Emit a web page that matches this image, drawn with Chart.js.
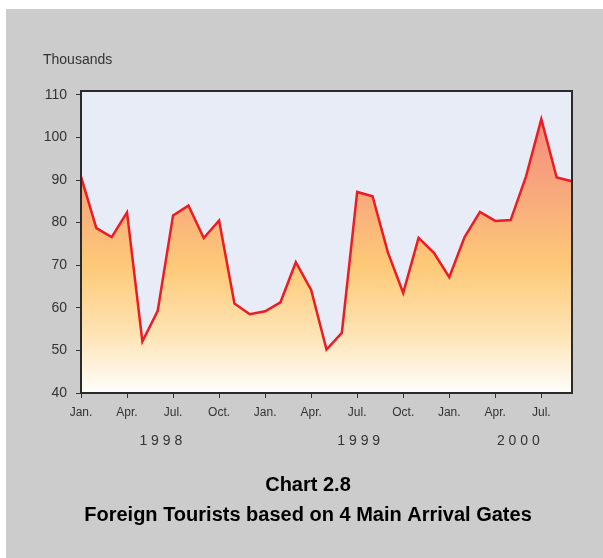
<!DOCTYPE html>
<html>
<head>
<meta charset="utf-8">
<script src="https://cdn.jsdelivr.net/npm/chart.js@4/dist/chart.umd.min.js"></script>
<style>
  html, body { margin: 0; padding: 0; background: #ffffff; }
  #wrap { position: absolute; left: 6px; top: 9px; width: 597px; height: 549px; background: #cccccc; }
  canvas { display: block; }
</style>
</head>
<body>
<div id="wrap"><canvas id="c" width="597" height="549"></canvas></div>
<script>
// Months Jan 1998 .. Sep 2000
const months = ['Jan.','Feb.','Mar.','Apr.','May','Jun.','Jul.','Aug.','Sep.','Oct.','Nov.','Dec.',
                'Jan.','Feb.','Mar.','Apr.','May','Jun.','Jul.','Aug.','Sep.','Oct.','Nov.','Dec.',
                'Jan.','Feb.','Mar.','Apr.','May','Jun.','Jul.','Aug.','Sep.'];
// Foreign tourists (thousands)
const tourists = [90.8, 78.7, 76.6, 82.4, 52.1, 59.3, 81.7, 84.0, 76.4, 80.5, 61.0, 58.5,
                  59.2, 61.3, 70.7, 64.2, 50.2, 54.1, 87.2, 86.2, 73.0, 63.5, 76.4, 72.9,
                  67.2, 76.6, 82.5, 80.4, 80.6, 90.8, 104.3, 90.6, 89.7];
const yTicks = [40, 50, 60, 70, 80, 90, 100, 110];
const yearLabels = ['1 9 9 8', '1 9 9 9', '2 0 0 0'];
const yearAt = [5.2, 18.1, 28.5]; // position along month axis (index)
const titleLines = ['Chart 2.8', 'Foreign Tourists based on 4 Main Arrival Gates'];
const unitLabel = 'Thousands';

const FONT = "'Liberation Sans', Arial, sans-serif";

const decor = {
  id: 'decor',
  beforeDatasetsDraw(chart) {
    const {ctx, chartArea: a} = chart;
    ctx.save();
    ctx.fillStyle = '#e8ecf6';
    ctx.fillRect(a.left, a.top, a.right - a.left, a.bottom - a.top);
    ctx.restore();
  },
  afterDraw(chart) {
    const {ctx, chartArea: a, scales} = chart;
    ctx.save();
    ctx.strokeStyle = '#2a2a2a';
    ctx.lineWidth = 2;
    ctx.strokeRect(a.left, a.top, a.right - a.left, a.bottom - a.top);
    ctx.fillStyle = '#333333';
    ctx.font = '14px ' + FONT;
    ctx.textAlign = 'left';
    ctx.textBaseline = 'middle';
    ctx.fillText(unitLabel, 37, 51);
    ctx.font = '14px ' + FONT;
    ctx.textAlign = 'center';
    yearLabels.forEach((t, i) => {
      ctx.fillText(t, scales.x.getPixelForValue(yearAt[i]), 432);
    });
    ctx.fillStyle = '#000000';
    ctx.font = 'bold 20px ' + FONT;
    ctx.fillText(titleLines[0], 302, 476);
    ctx.fillText(titleLines[1], 302, 506);
    ctx.restore();
  }
};

new Chart(document.getElementById('c'), {
  type: 'line',
  data: {
    labels: months,
    datasets: [{
      data: tourists,
      borderColor: '#ed1c24',
      borderWidth: 2.5,
      pointRadius: 0,
      tension: 0,
      fill: 'start',
      backgroundColor: (ctx) => {
        const a = ctx.chart.chartArea;
        if (!a) return '#fdc978';
        const g = ctx.chart.ctx.createLinearGradient(0, a.top, 0, a.bottom);
        g.addColorStop(0, '#f2857a');
        g.addColorStop(0.3, '#f7a47d');
        g.addColorStop(0.58, '#fdc978');
        g.addColorStop(0.8, '#fee3b3');
        g.addColorStop(1, '#fffefc');
        return g;
      }
    }]
  },
  options: {
    responsive: false,
    animation: false,
    layout: { padding: { top: 82, right: 31, bottom: 125, left: 0 } },
    plugins: { legend: { display: false }, tooltip: { enabled: false }, title: { display: false } },
    scales: {
      x: {
        type: 'category',
        offset: false,
        afterFit: (s) => { s.height = 40; },
        border: { display: true, color: '#2a2a2a', width: 2 },
        grid: {
          drawOnChartArea: false,
          drawTicks: true,
          tickLength: 5,
          color: (c) => (c.index % 3 === 0 ? '#333333' : 'rgba(0,0,0,0)'),
          lineWidth: 1
        },
        ticks: {
          autoSkip: false,
          maxRotation: 0,
          padding: 7,
          color: '#333333',
          font: { family: FONT, size: 12 },
          callback: function (v, i) { return i % 3 === 0 ? months[i] : ''; }
        }
      },
      y: {
        min: 40,
        max: 110.9,
        afterFit: (s) => { s.width = 75; },
        afterBuildTicks: (s) => { s.ticks = yTicks.map(v => ({ value: v })); },
        border: { display: true, color: '#2a2a2a', width: 2 },
        grid: { drawOnChartArea: false, drawTicks: true, tickLength: 5, color: '#333333' },
        ticks: {
          padding: 9,
          color: '#333333',
          font: { family: FONT, size: 14 }
        }
      }
    }
  },
  plugins: [decor]
});
</script>
</body>
</html>
